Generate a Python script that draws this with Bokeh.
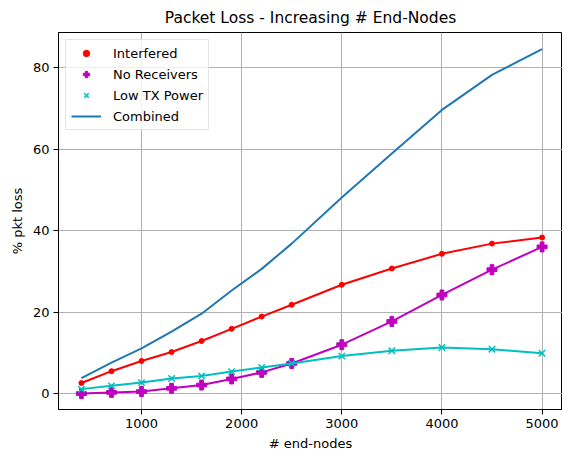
from bokeh.plotting import figure
from bokeh.models import FixedTicker, Range1d, Legend, LegendItem
from bokeh.embed import file_html
from bokeh.resources import INLINE

nodes = [400, 700, 1000, 1300, 1600, 1900, 2200, 2500, 3000, 3500, 4000, 4500, 5000]
interfered = [2.6, 5.5, 8.0, 10.2, 12.9, 15.9, 18.9, 21.8, 26.7, 30.7, 34.3, 36.8, 38.3]
no_receivers = [0.0, 0.3, 0.5, 1.3, 2.1, 3.6, 5.2, 7.4, 12.0, 17.7, 24.2, 30.4, 36.0]
low_tx = [1.1, 1.9, 2.7, 3.7, 4.3, 5.4, 6.4, 7.4, 9.2, 10.5, 11.3, 10.9, 9.9]
combined = [3.8, 7.6, 11.1, 15.2, 19.6, 25.3, 30.6, 36.8, 48.1, 58.9, 69.6, 78.2, 84.5]
x_ticks = [1000, 2000, 3000, 4000, 5000]
y_ticks = [0, 20, 40, 60, 80]

FONT = "DejaVu Sans"
FS = "13px"

p = figure(width=562, height=455, output_backend="svg", toolbar_location=None,
           x_range=Range1d(171, 5204), y_range=Range1d(-3.9, 88.6),
           min_border_left=58, min_border_right=0, min_border_top=31, min_border_bottom=46,
           title="Packet Loss - Increasing # End-Nodes")

p.title.align = "center"
p.title.text_font = FONT
p.title.text_font_size = "15.5px"
p.title.text_font_style = "normal"
p.title.text_color = "black"
p.title.standoff = 12

p.outline_line_color = "black"
p.outline_line_width = 1
p.background_fill_color = "white"
p.border_fill_color = "white"

for ax in (p.xaxis[0], p.yaxis[0]):
    ax.axis_line_color = "black"
    ax.major_tick_line_color = "black"
    ax.major_tick_out = 5
    ax.major_tick_in = 0
    ax.minor_tick_line_color = None
    ax.major_label_text_font = FONT
    ax.major_label_text_font_size = FS
    ax.major_label_text_color = "black"
    ax.axis_label_text_font = FONT
    ax.axis_label_text_font_size = FS
    ax.axis_label_text_font_style = "normal"
    ax.axis_label_text_color = "black"
    ax.major_label_standoff = 4
    ax.axis_label_standoff = 5

p.xaxis.ticker = FixedTicker(ticks=x_ticks)
p.yaxis.ticker = FixedTicker(ticks=y_ticks)
p.xaxis.axis_label = "# end-nodes"
p.yaxis.axis_label = "% pkt loss"

p.grid.grid_line_color = "#b0b0b0"
p.grid.grid_line_width = 1
p.xgrid.ticker = FixedTicker(ticks=x_ticks)
p.ygrid.ticker = FixedTicker(ticks=y_ticks)

lw = 2
p.line(nodes, interfered, line_color="#ff0000", line_width=lw)
r_int = p.scatter(nodes, interfered, marker="circle", size=5, fill_color="#ff0000", line_color="#ff0000")

p.line(nodes, no_receivers, line_color="#bf00bf", line_width=lw)
r_nr = p.scatter(nodes, no_receivers, marker="plus", size=10, fill_color="#bf00bf", line_color="#bf00bf")

p.line(nodes, low_tx, line_color="#00bfbf", line_width=lw)
r_tx = p.scatter(nodes, low_tx, marker="x", size=9, line_color="#00bfbf", line_width=1.5)

r_comb = p.line(nodes, combined, line_color="#1f77b4", line_width=lw)

legend = Legend(items=[
    LegendItem(label="Interfered", renderers=[r_int]),
    LegendItem(label="No Receivers", renderers=[r_nr]),
    LegendItem(label="Low TX Power", renderers=[r_tx]),
    LegendItem(label="Combined", renderers=[r_comb]),
], location="top_left")
legend.margin = 7
legend.padding = 5
legend.spacing = 5
legend.glyph_width = 30
legend.glyph_height = 16
legend.label_height = 16
legend.label_standoff = 12
legend.label_text_font = FONT
legend.label_text_font_size = FS
legend.label_text_color = "black"
legend.border_line_color = "#cccccc"
legend.background_fill_alpha = 0.8
p.add_layout(legend)

open("out.html", "w").write(file_html(p, INLINE))
